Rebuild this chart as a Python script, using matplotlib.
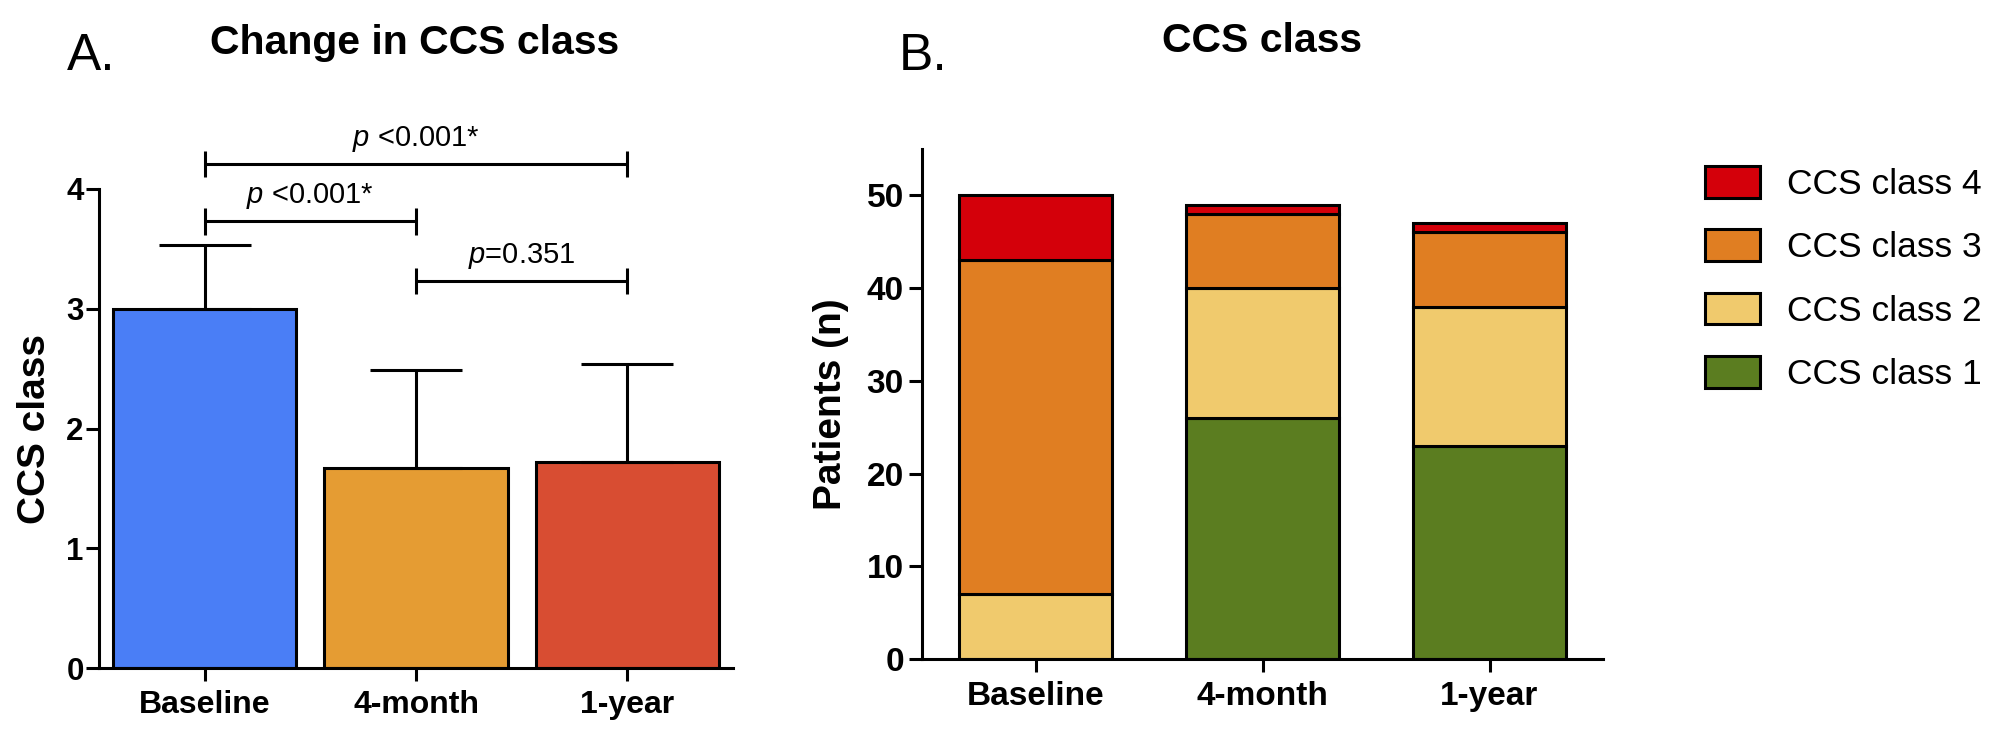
import matplotlib
matplotlib.use('Agg')
import matplotlib.pyplot as plt
from matplotlib import font_manager as fm
from matplotlib.patches import Patch

# ---------------- data ----------------
timepoints = ['Baseline', '4-month', '1-year']
ccs_mean = [3.00, 1.67, 1.72]
ccs_sd = [0.53, 0.82, 0.82]
mean_colors = ['#4a7ef6', '#e59c33', '#d84d32']

comp_pairs = [(0, 2), (0, 1), (1, 2)]
comp_labels = [r'$p$ <0.001*', r'$p$ <0.001*', r'$p$=0.351']

ccs_class1 = [0, 26, 23]
ccs_class2 = [7, 14, 15]
ccs_class3 = [36, 8, 8]
ccs_class4 = [7, 1, 1]
class_labels = ['CCS class 1', 'CCS class 2', 'CCS class 3', 'CCS class 4']
class_colors = ['#5b7d20', '#f0ca6d', '#e07e22', '#d4000a']

# ---------------- fonts ----------------
def has_font(name):
    try:
        fm.findfont(fm.FontProperties(family=name), fallback_to_default=False)
        return True
    except Exception:
        return False

NARROW = has_font('Liberation Sans Narrow')
plt.rcParams['font.family'] = ['Liberation Sans', 'DejaVu Sans']
plt.rcParams['mathtext.fontset'] = 'custom'
plt.rcParams['mathtext.it'] = 'Liberation Sans:italic'
plt.rcParams['mathtext.rm'] = 'Liberation Sans'
title_family = ['Liberation Sans Narrow', 'Liberation Sans'] if NARROW else ['Liberation Sans']
title_size = 35 if NARROW else 29.5
letter_size = 41 if NARROW else 37

LW = 2.2

fig = plt.figure(figsize=(19.98, 7.36), dpi=100)

# ---------------- panel A ----------------
axA = fig.add_axes([99 / 1998, 68 / 736, 634 / 1998, 479 / 736])
xA = list(range(len(timepoints)))
axA.bar(xA, ccs_mean, width=0.866, color=mean_colors, edgecolor='black',
        linewidth=LW, zorder=2)
axA.errorbar(xA, ccs_mean, yerr=[[0] * len(ccs_sd), ccs_sd], fmt='none',
             ecolor='black', elinewidth=LW, capsize=33, capthick=LW, zorder=3)
axA.set_xlim(-0.5, 2.5)
axA.set_ylim(0, 4)
axA.set_yticks([0, 1, 2, 3, 4])
axA.set_xticks(xA)
axA.set_xticklabels(timepoints, fontsize=23, fontweight='bold')
for lab in axA.get_yticklabels():
    lab.set_fontsize(22.5)
    lab.set_fontweight('bold')
axA.set_ylabel('CCS class', fontsize=28, fontweight='bold')
axA.yaxis.set_label_coords(-0.101, 0.5)
axA.yaxis.label.set_va('center')

bracket_y = [4.21, 3.73, 3.23]
tick_h = 0.11
for (i0, i1), lab, yb in zip(comp_pairs, comp_labels, bracket_y):
    axA.plot([i0, i1], [yb, yb], color='black', lw=LW, clip_on=False,
             solid_capstyle='butt')
    for xi in (i0, i1):
        axA.plot([xi, xi], [yb - tick_h, yb + tick_h], color='black', lw=LW,
                 clip_on=False, solid_capstyle='butt')
    axA.text((i0 + i1) / 2, yb + 0.15, lab, ha='center', va='baseline',
             fontsize=21)

# ---------------- panel B ----------------
axB = fig.add_axes([922 / 1998, 77 / 736, 681 / 1998, 510 / 736])
xB = list(range(len(timepoints)))
stack = [ccs_class1, ccs_class2, ccs_class3, ccs_class4]
bottom = [0] * len(timepoints)
handles = []
for vals, col, lab in zip(stack, class_colors, class_labels):
    axB.bar(xB, vals, bottom=bottom, width=0.675, color=col,
            edgecolor='black', linewidth=LW, zorder=2)
    bottom = [b + v for b, v in zip(bottom, vals)]
    handles.append(Patch(facecolor=col, edgecolor='black', linewidth=LW, label=lab))
axB.set_xlim(-0.5, 2.5)
axB.set_ylim(0, 55)
axB.set_yticks([0, 10, 20, 30, 40, 50])
axB.set_xticks(xB)
axB.set_xticklabels(timepoints, fontsize=24, fontweight='bold')
for lab in axB.get_yticklabels():
    lab.set_fontsize(24)
    lab.set_fontweight('bold')
axB.set_ylabel('Patients (n)', fontsize=28, fontweight='bold')
axB.yaxis.set_label_coords(-0.134, 0.5)
axB.yaxis.label.set_va('center')

for ax, ypad in ((axA, 1.5), (axB, 3.5)):
    for s in ('top', 'right'):
        ax.spines[s].set_visible(False)
    for s in ('left', 'bottom'):
        ax.spines[s].set_linewidth(LW)
    ax.tick_params(axis='both', direction='out', length=9.5, width=LW)
    ax.tick_params(axis='y', pad=ypad)
    ax.tick_params(axis='x', pad=6)

leg = fig.legend(handles=handles[::-1], loc='upper left',
                 bbox_to_anchor=(1705 / 1998, 1 - 166 / 736),
                 frameon=False, fontsize=25.5, handlelength=1.56,
                 handleheight=1.0, handletextpad=0.75, labelspacing=0.8,
                 borderpad=0, borderaxespad=0)

# ---------------- titles ----------------
fig.text(415 / 1998, 1 - 54 / 736, 'Change in CCS class', ha='center',
         va='baseline', fontsize=title_size, fontweight='bold', family=title_family)
fig.text(1262 / 1998, 1 - 52 / 736, 'CCS class', ha='center',
         va='baseline', fontsize=title_size, fontweight='bold', family=title_family)
fig.text(67 / 1998, 1 - 70 / 736, 'A.', ha='left', va='baseline',
         fontsize=letter_size, family=title_family)
fig.text(899 / 1998, 1 - 70 / 736, 'B.', ha='left', va='baseline',
         fontsize=letter_size, family=title_family)

fig.savefig('out.png', dpi=100)
